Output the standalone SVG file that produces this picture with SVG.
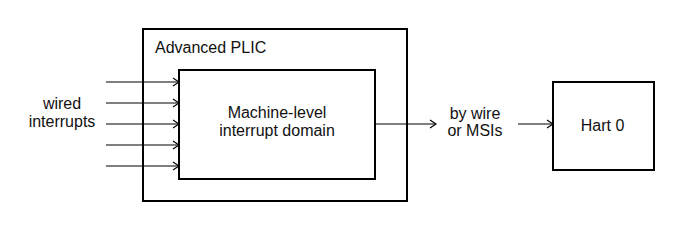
<svg xmlns="http://www.w3.org/2000/svg" width="682" height="230" viewBox="0 0 682 230">
<style>
.box{fill:#fff;stroke:#000;stroke-width:2}
.ln{stroke:#000;stroke-width:1.2;fill:none;marker-end:url(#ah)}
text{font-family:"Liberation Sans",Arial,sans-serif;font-size:16px;fill:#111}
.c{text-anchor:middle}
</style>
<defs>
<marker id="ah" viewBox="0 0 10 10" refX="9" refY="5" markerWidth="10" markerHeight="10" markerUnits="userSpaceOnUse" orient="auto">
<path d="M3,1 L9,5 L3,9" fill="none" stroke="#000" stroke-width="1.2"/>
</marker>
</defs>
<rect width="682" height="230" fill="#fff"/>
<g id="plic">
<rect class="box" x="143" y="29" width="264" height="172"/>
<text x="155" y="53">Advanced PLIC</text>
</g>
<g id="domain">
<rect class="box" x="179" y="70" width="196" height="109"/>
<text class="c" x="277" y="118">Machine-level</text>
<text class="c" x="277" y="136">interrupt domain</text>
</g>
<g id="hart">
<rect class="box" x="553" y="82" width="101" height="88"/>
<text class="c" x="602.5" y="131">Hart 0</text>
</g>
<g id="labels">
<text class="c" x="62" y="109">wired</text>
<text class="c" x="62" y="127">interrupts</text>
<text class="c" x="475" y="119">by wire</text>
<text class="c" x="475" y="136">or MSIs</text>
</g>
<g id="connectors">
<line class="ln" x1="106" y1="82" x2="179" y2="82"/>
<line class="ln" x1="106" y1="103" x2="179" y2="103"/>
<line class="ln" x1="106" y1="124" x2="179" y2="124"/>
<line class="ln" x1="106" y1="145" x2="179" y2="145"/>
<line class="ln" x1="106" y1="166" x2="179" y2="166"/>
<line class="ln" x1="375" y1="124" x2="436" y2="124"/>
<line class="ln" x1="518" y1="124" x2="553" y2="124"/>
</g>
</svg>
